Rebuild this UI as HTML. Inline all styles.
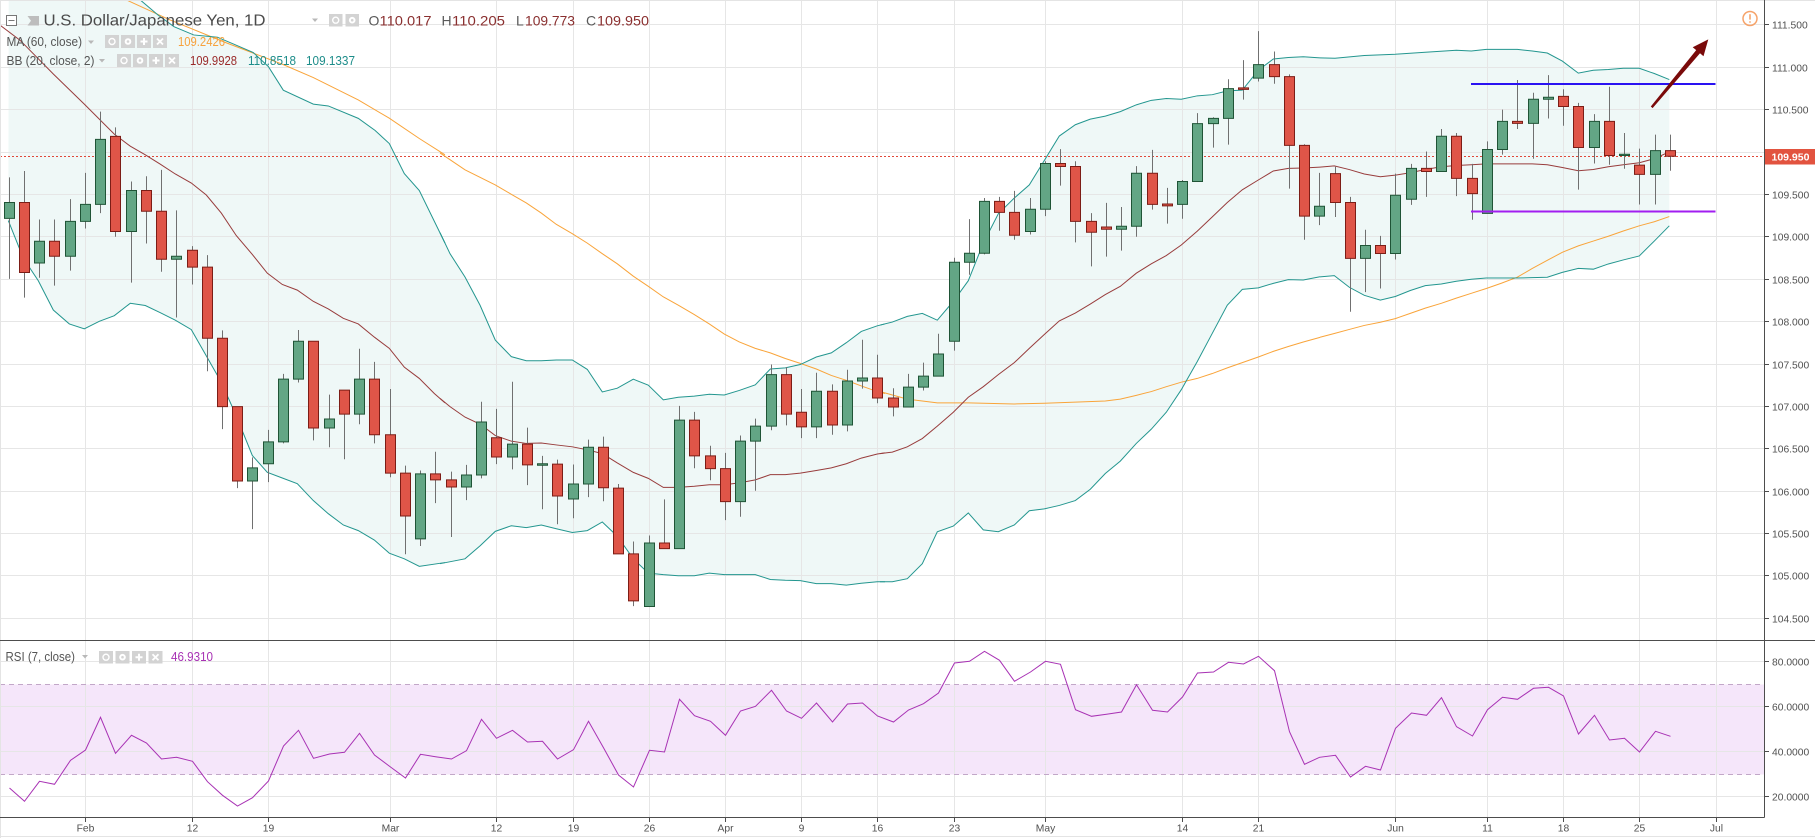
<!DOCTYPE html>
<html><head><meta charset="utf-8">
<style>
html,body{margin:0;padding:0;background:#fff;}
svg{display:block;font-family:"Liberation Sans",Arial,sans-serif;}
.nss *{vector-effect:non-scaling-stroke;}
.w{stroke:#707070;stroke-width:1;fill:none}
.u{fill:#63a685;stroke:#1f5436;stroke-width:1}
.d{fill:#df5548;stroke:#7c1d16;stroke-width:1}
.bf{fill:#eff8f7;stroke:none}
.ub{fill:none;stroke:#23968f;stroke-width:1}
.mb{fill:none;stroke:#983c3c;stroke-width:1}
.ma{fill:none;stroke:#f9a43a;stroke-width:1}
.g{stroke:#e6e6e6;stroke-width:1;fill:none}
.ax{font-size:10.3px;fill:#505050}
.tl{font-size:10.3px;fill:#505050;text-anchor:middle}
.bx{fill:#d3d3d3}
.gl{stroke:#fff;fill:none}
</style></head><body>
<svg width="1815" height="838" viewBox="0 0 1815 838">
<defs>
<clipPath id="cm"><rect x="0" y="0" width="1764" height="640"/></clipPath>
<clipPath id="cr"><rect x="0" y="641" width="1764" height="176"/></clipPath>
</defs>
<rect x="0" y="0" width="1815" height="838" fill="#fff"/>

<!-- MAIN PANE -->
<g clip-path="url(#cm)">
 <!-- BB fills -->
 <g transform="translate(0,40.2) scale(1,0.3758)">
  <polygon class="bf" points="9,-450 100,-200 140.3,-107 158,-67 174,-36 193.7,-14 217.4,-8 233.3,10 253.3,33 268.3,70 283.3,133 313.3,170 328.3,175 358.3,208 375,240 389.3,275 404.3,355 419.3,400 445,540 445,1390 419.3,1400 404.3,1380 389.3,1365 374.3,1330 358.3,1305 343.3,1290 328.3,1260 313.3,1225 297.3,1180 282.3,1165 267.3,1150 252.3,1105 236.3,1000 221.3,910 206.3,840 191.3,770 175.3,745 160.3,725 145.3,706 130.3,700 114.3,733 99.3,748 84.3,768 69.3,755 53.3,718 38.3,640 23.3,580 8.3,480"/>
  <polygon class="bf" points="440,512 450,568 465,630 480,705 495.3,798 511.3,842 526.3,853 541.3,853 556.3,851 572.3,851 587.3,876 602.3,936 617.3,926 633.3,902 648.3,918 663.3,957 678.3,950 694.3,947 709.3,942 724.3,944 739.3,932 755.3,917 770.3,875 785.3,872 800.3,863 816.3,843 831.3,832 846.3,805 861.3,775 877.3,760 885,755 885,1441 877.3,1441 861.3,1445 846.3,1450 831.3,1446 816.3,1446 800.3,1438 785.3,1437 770.3,1435 755.3,1422 739.3,1422 724.3,1422 709.3,1418 694.3,1425 678.3,1425 663.3,1422 648.3,1418 633.3,1380 617.3,1320 602.3,1282 587.3,1305 572.3,1310 556.3,1300 541.3,1290 526.3,1297 511.3,1292 495.3,1307 480.3,1345 465,1380 440,1393"/>
  <polygon class="bf" points="880,758 892.3,750 907.3,735 922.3,727 937.3,745 953.3,695 968.3,640 983.3,540 998.3,462 1014.3,420 1029.3,385 1044.3,320 1059.3,255 1075.3,225 1090.3,210 1105.3,202 1120.3,190 1136.3,172 1151.3,160 1166.3,155 1181.3,157 1197.3,148 1212.3,145 1227.3,135 1242.3,133 1258.3,80 1273.3,50 1288.3,46 1303.3,44 1321,47.2 1321,629.3 1303.3,638 1288.3,637 1273.3,647 1258.3,659 1242.3,663 1227.3,705 1212.3,780 1197.3,855 1181.3,930 1166.3,990 1151.3,1035 1136.3,1073 1120.3,1120 1105.3,1153 1090.3,1195 1075.3,1225 1059.3,1238 1044.3,1247 1029.3,1252 1014.3,1290 998.3,1308 983.3,1303 968.3,1258 953.3,1293 937.3,1308 922.3,1393 907.3,1433 892.3,1441 880,1441"/>
 </g>
 <g transform="scale(1,0.40177)">
  <polygon class="bf" points="1320,144 1335,145 1364.3,138 1395.3,135 1425.3,130 1456.3,125 1471.3,127 1486.3,123 1501.3,123 1517.3,123 1532.3,127 1547.3,132 1562.3,152 1578.3,182 1593.3,175 1608.3,173 1623.3,170 1639.3,170 1654.3,183 1669.3,198 1669.3,562 1654.3,600 1639.3,637 1623.3,647 1608.3,657 1593.3,670 1578.3,668 1562.3,678 1547.3,690 1532.3,691 1517.3,692 1501.3,692 1486.3,692 1471.3,695 1456.3,700 1441.3,707 1425.3,711 1410.3,723 1395.3,738 1380.3,747 1364.3,735 1349.3,715 1334.3,686 1320,689"/>
 </g>
 <!-- grid -->
 <path class="g" d="M0 24.5H1764M0 67.5H1764M0 109.5H1764M0 152.5H1764M0 194.5H1764M0 236.5H1764M0 279.5H1764M0 321.5H1764M0 364.5H1764M0 406.5H1764M0 448.5H1764M0 491.5H1764M0 533.5H1764M0 575.5H1764M0 618.5H1764"/>
 <path class="g" d="M85.5 0V640M192.5 0V640M268.5 0V640M390.5 0V640M496.5 0V640M573.5 0V640M649.5 0V640M725.5 0V640M801.5 0V640M877.5 0V640M954.5 0V640M1045.5 0V640M1182.5 0V640M1258.5 0V640M1395.5 0V640M1487.5 0V640M1563.5 0V640M1639.5 0V640M1716.5 0V640"/>

 <!-- price line -->
 <path d="M0 156.5H1764" stroke="#e0483a" stroke-width="1" stroke-dasharray="2 2"/>

 <!-- indicator lines -->
 <g class="nss" transform="translate(0,40.2) scale(1,0.3758)">
  <polyline class="ma" points="0,-253 126.5,-107 170,-54 226.7,7.5 253,34 283.3,65 313.3,99.5 358.3,159 389.3,207.6 419.3,261.6 445,305"/>
  <polyline class="ub" points="9,-450 100,-200 140.3,-107 158,-67 174,-36 193.7,-14 217.4,-8 233.3,10 253.3,33 268.3,70 283.3,133 313.3,170 328.3,175 358.3,208 375,240 389.3,275 404.3,355 419.3,400 445,540"/>
  <polyline class="mb" points="0,-40 20,0 53.3,90 84.3,170 114.3,250 130.3,282 145.3,305 160.3,330 175.3,356 191.3,380 206.3,412 221.3,460 236.3,520 252.3,570 267.3,620 282.3,650 297.3,665 313.3,695 328.3,715 343.3,740 358.3,755 374.3,790 389.3,820 404.3,870 419.3,900 434.3,940 445,965"/>
  <polyline class="ub" points="8.3,480 23.3,580 38.3,640 53.3,718 69.3,755 84.3,768 99.3,748 114.3,733 130.3,700 145.3,706 160.3,725 175.3,745 191.3,770 206.3,840 221.3,910 236.3,1000 252.3,1105 267.3,1150 282.3,1165 297.3,1180 313.3,1225 328.3,1260 343.3,1290 358.3,1305 374.3,1330 389.3,1365 404.3,1380 419.3,1400 445,1390"/>

  <polyline class="ma" points="440,300 465,345 495.3,385 511.3,410 526.3,433 541.3,460 556.3,490 572.3,515 587.3,540 602.3,568 617.3,595 633.3,628 648.3,655 663.3,683 678.3,705 694.3,730 709.3,755 724.3,782 739.3,803 755.3,820 770.3,832 785.3,847 800.3,860 816.3,875 831.3,892 846.3,905 861.3,920 877.3,935 885,940"/>
  <polyline class="ub" points="440,512 450,568 465,630 480,705 495.3,798 511.3,842 526.3,853 541.3,853 556.3,851 572.3,851 587.3,876 602.3,936 617.3,926 633.3,902 648.3,918 663.3,957 678.3,950 694.3,947 709.3,942 724.3,944 739.3,932 755.3,917 770.3,875 785.3,872 800.3,863 816.3,843 831.3,832 846.3,805 861.3,775 877.3,760 885,755"/>
  <polyline class="mb" points="440,953 450,975 465,1003 480.3,1022 495.3,1052 511.3,1067 526.3,1073 541.3,1072 556.3,1077 572.3,1082 587.3,1090 602.3,1100 617.3,1125 633.3,1150 648.3,1166 663.3,1190 678.3,1190 694.3,1187 709.3,1183 724.3,1183 739.3,1178 755.3,1170 770.3,1156 785.3,1156 800.3,1152 816.3,1145 831.3,1138 846.3,1127 861.3,1112 877.3,1101 885,1098"/>
  <polyline class="ub" points="440,1393 465,1380 480.3,1345 495.3,1307 511.3,1292 526.3,1297 541.3,1290 556.3,1300 572.3,1310 587.3,1305 602.3,1282 617.3,1320 633.3,1380 648.3,1418 663.3,1422 678.3,1425 694.3,1425 709.3,1418 724.3,1422 739.3,1422 755.3,1422 770.3,1435 785.3,1437 800.3,1438 816.3,1446 831.3,1446 846.3,1450 861.3,1445 877.3,1441 885,1441"/>

  <polyline class="ma" points="880,935 907.3,955 937.3,965 968.3,965 1014.3,968 1044.3,966 1075.3,963 1105.3,960 1120.3,955 1136.3,945 1151.3,935 1166.3,922 1181.3,910 1197.3,900 1212.3,887 1227.3,872 1242.3,858 1258.3,843 1273.3,828 1288.3,815 1303.3,803 1320,790.7"/>
  <polyline class="ub" points="880,758 892.3,750 907.3,735 922.3,727 937.3,745 953.3,695 968.3,640 983.3,540 998.3,462 1014.3,420 1029.3,385 1044.3,320 1059.3,255 1075.3,225 1090.3,210 1105.3,202 1120.3,190 1136.3,172 1151.3,160 1166.3,155 1181.3,157 1197.3,148 1212.3,145 1227.3,135 1242.3,133 1258.3,80 1273.3,50 1288.3,46 1303.3,44 1320,47.1"/>
  <polyline class="mb" points="880,1100 892.3,1096 907.3,1082 922.3,1060 937.3,1027 953.3,990 968.3,950 983.3,922 998.3,890 1014.3,858 1029.3,820 1044.3,783 1059.3,747 1075.3,726 1090.3,702 1105.3,677 1120.3,655 1136.3,620 1151.3,595 1166.3,573 1181.3,545 1197.3,508 1212.3,470 1227.3,432 1242.3,398 1258.3,372 1273.3,348 1288.3,341 1303.3,340 1320,337.7"/>
  <polyline class="ub" points="880,1441 892.3,1441 907.3,1433 922.3,1393 937.3,1308 953.3,1293 968.3,1258 983.3,1303 998.3,1308 1014.3,1290 1029.3,1252 1044.3,1247 1059.3,1238 1075.3,1225 1090.3,1195 1105.3,1153 1120.3,1120 1136.3,1073 1151.3,1035 1166.3,990 1181.3,930 1197.3,855 1212.3,780 1227.3,705 1242.3,663 1258.3,659 1273.3,647 1288.3,637 1303.3,638 1320,629.5"/>
 </g>
 <g class="nss" transform="scale(1,0.40177)">
  <polyline class="ma" points="1320,839.5 1334.3,830 1349.3,820 1364.3,810 1380.3,802 1395.3,793 1410.3,780 1425.3,767 1441.3,755 1456.3,742 1471.3,730 1486.3,718 1501.3,705 1517.3,690 1532.3,668 1547.3,648 1562.3,628 1578.3,612 1593.3,600 1608.3,588 1623.3,575 1639.3,562 1654.3,552 1669.3,539"/>
  <polyline class="ub" points="1320,144 1335,145 1364.3,138 1395.3,135 1425.3,130 1456.3,125 1471.3,127 1486.3,123 1501.3,123 1517.3,123 1532.3,127 1547.3,132 1562.3,152 1578.3,182 1593.3,175 1608.3,173 1623.3,170 1639.3,170 1654.3,183 1669.3,198"/>
  <polyline class="mb" points="1320,416 1334.3,413 1349.3,422 1364.3,433 1380.3,440 1395.3,436 1410.3,430 1425.3,422 1441.3,415 1456.3,412 1471.3,410 1486.3,408 1501.3,408 1517.3,408 1532.3,408 1547.3,410 1562.3,417 1578.3,425 1593.3,422 1608.3,415 1623.3,410 1639.3,405 1654.3,395 1669.3,378"/>
  <polyline class="ub" points="1320,689 1334.3,686 1349.3,715 1364.3,735 1380.3,747 1395.3,738 1410.3,723 1425.3,711 1441.3,707 1456.3,700 1471.3,695 1486.3,692 1501.3,692 1517.3,692 1532.3,691 1547.3,690 1562.3,678 1578.3,668 1593.3,670 1608.3,657 1623.3,647 1639.3,637 1654.3,600 1669.3,562"/>
 </g>

 <!-- candles -->
 <g class="nss" transform="translate(0,40.2) scale(1,0.3758)">
  <path class="w" d="M9.5 365V635M24.5 348V685M39.5 477V632M54.5 477V653M70.5 423V613M85.5 353V501M100.5 190V460M115.5 232V523M131.5 376V645M146.5 362V541M161.5 345V616M176.5 453V738M192.5 548V650M207.5 572V881M222.5 772V1035M237.5 975V1192M252.5 1110V1301M268.5 1037V1176M283.5 888V1073M298.5 771V911M313.5 801V1065M329.5 943V1083M344.5 931V1115M359.5 821V1022M374.5 856V1073M390.5 928V1163M405.5 1132V1368M420.5 1145V1346M435.5 1095V1232"/>
  <rect class="u" x="4.5" y="432" width="10" height="42"/>
  <rect class="d" x="19.5" y="432" width="10" height="186"/>
  <rect class="u" x="34.5" y="535" width="10" height="58"/>
  <rect class="d" x="49.5" y="535" width="10" height="40"/>
  <rect class="u" x="65.5" y="482" width="10" height="93"/>
  <rect class="u" x="80.5" y="437" width="10" height="45"/>
  <rect class="u" x="95.5" y="264" width="10" height="173"/>
  <rect class="d" x="110.5" y="256" width="10" height="253"/>
  <rect class="u" x="126.5" y="400" width="10" height="109"/>
  <rect class="d" x="141.5" y="400" width="10" height="55"/>
  <rect class="d" x="156.5" y="455" width="10" height="128"/>
  <rect class="u" x="171.5" y="575" width="10" height="8"/>
  <rect class="d" x="187.5" y="559" width="10" height="45"/>
  <rect class="d" x="202.5" y="604" width="10" height="189"/>
  <rect class="d" x="217.5" y="793" width="10" height="182"/>
  <rect class="d" x="232.5" y="975" width="10" height="198"/>
  <rect class="u" x="247.5" y="1138" width="10" height="35"/>
  <rect class="u" x="263.5" y="1069" width="10" height="58"/>
  <rect class="u" x="278.5" y="902" width="10" height="167"/>
  <rect class="u" x="293.5" y="801" width="10" height="101"/>
  <rect class="d" x="308.5" y="801" width="10" height="231"/>
  <rect class="u" x="324.5" y="1008" width="10" height="24"/>
  <rect class="d" x="339.5" y="931" width="10" height="64"/>
  <rect class="u" x="354.5" y="902" width="10" height="93"/>
  <rect class="d" x="369.5" y="902" width="10" height="148"/>
  <rect class="d" x="385.5" y="1050" width="10" height="102"/>
  <rect class="d" x="400.5" y="1152" width="10" height="114"/>
  <rect class="u" x="415.5" y="1154" width="10" height="173"/>
  <rect class="d" x="430.5" y="1154" width="10" height="16"/>

  <path class="w" d="M451.5 1148V1322M466.5 1130V1224M481.5 962V1166M496.5 981V1128M512.5 909V1142M527.5 1031V1184M542.5 1106V1248M557.5 1116V1288M573.5 1129V1272M588.5 1063V1216M603.5 1055V1227M618.5 1181V1367M633.5 1334V1506M649.5 1318V1507M664.5 1222V1353M679.5 973V1353M694.5 989V1139M710.5 1079V1171M725.5 1098V1277M740.5 1052V1268M755.5 1007V1199M771.5 863V1038M786.5 870V1025M801.5 928V1059M816.5 885V1059M832.5 916V1050M847.5 877V1041M862.5 797V927M877.5 837V966"/>
  <rect class="d" x="446.5" y="1170" width="10" height="19"/>
  <rect class="u" x="461.5" y="1157" width="10" height="32"/>
  <rect class="u" x="476.5" y="1016" width="10" height="141"/>
  <rect class="d" x="491.5" y="1058" width="10" height="51"/>
  <rect class="u" x="507.5" y="1075" width="10" height="34"/>
  <rect class="d" x="522.5" y="1075" width="10" height="55"/>
  <rect class="u" x="537.5" y="1127" width="10" height="4"/>
  <rect class="d" x="552.5" y="1128" width="10" height="85"/>
  <rect class="u" x="568.5" y="1181" width="10" height="40"/>
  <rect class="u" x="583.5" y="1083" width="10" height="98"/>
  <rect class="d" x="598.5" y="1083" width="10" height="108"/>
  <rect class="d" x="613.5" y="1192" width="10" height="175"/>
  <rect class="d" x="628.5" y="1367" width="10" height="125"/>
  <rect class="u" x="644.5" y="1338" width="10" height="169"/>
  <rect class="d" x="659.5" y="1338" width="10" height="15"/>
  <rect class="u" x="674.5" y="1011" width="10" height="342"/>
  <rect class="d" x="689.5" y="1011" width="10" height="95"/>
  <rect class="d" x="705.5" y="1106" width="10" height="34"/>
  <rect class="d" x="720.5" y="1140" width="10" height="88"/>
  <rect class="u" x="735.5" y="1067" width="10" height="161"/>
  <rect class="u" x="750.5" y="1027" width="10" height="40"/>
  <rect class="u" x="766.5" y="890" width="10" height="137"/>
  <rect class="d" x="781.5" y="890" width="10" height="105"/>
  <rect class="d" x="796.5" y="990" width="10" height="39"/>
  <rect class="u" x="811.5" y="934" width="10" height="95"/>
  <rect class="d" x="827.5" y="934" width="10" height="90"/>
  <rect class="u" x="842.5" y="907" width="10" height="117"/>
  <rect class="u" x="857.5" y="899" width="10" height="8"/>
  <rect class="d" x="872.5" y="899" width="10" height="53"/>

  <path class="w" d="M893.5 926V1001M908.5 888V976M923.5 858V932M938.5 781V894M954.5 579V826M969.5 476V624M984.5 420V570M999.5 417V507M1014.5 401V531M1030.5 420V517M1045.5 322V468M1060.5 290V387M1075.5 322V538M1091.5 460V602M1106.5 433V576M1121.5 444V560M1136.5 335V523M1152.5 292V451M1167.5 393V488M1182.5 372V475M1197.5 194V376M1213.5 205V286M1228.5 104V278M1243.5 53V158M1258.5 -24V110M1274.5 30V116M1289.5 91V395M1304.5 277V531M1319.5 353V492"/>
  <rect class="d" x="888.5" y="952" width="10" height="24"/>
  <rect class="u" x="903.5" y="923" width="10" height="53"/>
  <rect class="u" x="918.5" y="894" width="10" height="29"/>
  <rect class="u" x="933.5" y="835" width="10" height="59"/>
  <rect class="u" x="949.5" y="591" width="10" height="210"/>
  <rect class="u" x="964.5" y="567" width="10" height="24"/>
  <rect class="u" x="979.5" y="429" width="10" height="138"/>
  <rect class="d" x="994.5" y="429" width="10" height="29"/>
  <rect class="d" x="1009.5" y="458" width="10" height="61"/>
  <rect class="u" x="1025.5" y="450" width="10" height="59"/>
  <rect class="u" x="1040.5" y="328" width="10" height="122"/>
  <rect class="d" x="1055.5" y="328" width="10" height="8"/>
  <rect class="d" x="1070.5" y="336" width="10" height="146"/>
  <rect class="d" x="1086.5" y="482" width="10" height="29"/>
  <rect class="d" x="1101.5" y="497" width="10" height="6"/>
  <rect class="u" x="1116.5" y="495" width="10" height="8"/>
  <rect class="u" x="1131.5" y="354" width="10" height="141"/>
  <rect class="d" x="1147.5" y="354" width="10" height="83"/>
  <rect class="d" x="1162.5" y="436" width="10" height="5"/>
  <rect class="u" x="1177.5" y="376" width="10" height="61"/>
  <rect class="u" x="1192.5" y="222" width="10" height="154"/>
  <rect class="u" x="1208.5" y="208" width="10" height="14"/>
  <rect class="u" x="1223.5" y="129" width="10" height="79"/>
  <rect class="d" x="1238.5" y="127" width="10" height="4"/>
  <rect class="u" x="1253.5" y="65" width="10" height="36"/>
  <rect class="d" x="1269.5" y="65" width="10" height="32"/>
  <rect class="d" x="1284.5" y="97" width="10" height="183"/>
  <rect class="d" x="1299.5" y="280" width="10" height="188"/>
  <rect class="u" x="1314.5" y="442" width="10" height="26"/>
 </g>
 <g class="nss" transform="scale(1,0.40177)">
  <path class="w" d="M1335.5 415V540M1350.5 490V776M1365.5 572V727M1380.5 587V718M1395.5 432V646M1411.5 408V510M1426.5 377V490M1441.5 321V427M1456.5 331V488M1472.5 408V547M1487.5 352V531M1502.5 273V385M1517.5 199V321M1533.5 231V395M1548.5 187V295M1563.5 222V313M1578.5 256V472M1594.5 284V407M1609.5 216V410M1624.5 331V420M1639.5 370V509M1655.5 335V509M1670.5 335V425"/>
  <rect class="d" x="1330.5" y="432" width="10" height="72"/>
  <rect class="d" x="1345.5" y="504" width="10" height="139"/>
  <rect class="u" x="1360.5" y="611" width="10" height="32"/>
  <rect class="d" x="1375.5" y="611" width="10" height="20"/>
  <rect class="u" x="1390.5" y="486" width="10" height="145"/>
  <rect class="u" x="1406.5" y="419" width="10" height="77"/>
  <rect class="d" x="1421.5" y="419" width="10" height="8"/>
  <rect class="u" x="1436.5" y="339" width="10" height="88"/>
  <rect class="d" x="1451.5" y="339" width="10" height="105"/>
  <rect class="d" x="1467.5" y="444" width="10" height="38"/>
  <rect class="u" x="1482.5" y="372" width="10" height="159"/>
  <rect class="u" x="1497.5" y="302" width="10" height="70"/>
  <rect class="d" x="1512.5" y="302" width="10" height="5"/>
  <rect class="u" x="1528.5" y="247" width="10" height="60"/>
  <rect class="u" x="1543.5" y="242" width="10" height="5"/>
  <rect class="d" x="1558.5" y="240" width="10" height="25"/>
  <rect class="d" x="1573.5" y="265" width="10" height="102"/>
  <rect class="u" x="1589.5" y="302" width="10" height="65"/>
  <rect class="d" x="1604.5" y="302" width="10" height="85"/>
  <rect class="u" x="1619.5" y="384" width="10" height="3"/>
  <rect class="d" x="1634.5" y="411" width="10" height="23"/>
  <rect class="u" x="1650.5" y="375" width="10" height="59"/>
  <rect class="d" x="1665.5" y="375" width="10" height="14"/>
 </g>

 <!-- drawings -->
 <path d="M1471 84H1715.5" stroke="#2a12f2" stroke-width="2"/>
 <path d="M1471 211.5H1715.5" stroke="#a21ef0" stroke-width="2"/>
 <polygon points="1650.8,106.5 1696.2,50.1 1692.7,47.2 1708.3,39.4 1703.5,56.2 1700,53.3 1652.6,108.1" fill="#7a0a0a"/>
 <circle cx="1750" cy="18.5" r="7" fill="none" stroke="#f6a36a" stroke-width="1.5"/>
 <path d="M1750 14.2V19.6" stroke="#f6a36a" stroke-width="1.6"/>
 <circle cx="1750" cy="22" r="0.9" fill="#f6a36a"/>
</g>

<!-- RSI PANE -->
<g clip-path="url(#cr)">
 <rect x="0" y="684.5" width="1764" height="90" fill="#f5e6fa"/>
 <path class="g" d="M0 661.5H1764M0 706.5H1764M0 751.5H1764M0 796.5H1764"/>
 <path class="g" d="M85.5 641V817M192.5 641V817M268.5 641V817M390.5 641V817M496.5 641V817M573.5 641V817M649.5 641V817M725.5 641V817M801.5 641V817M877.5 641V817M954.5 641V817M1045.5 641V817M1182.5 641V817M1258.5 641V817M1395.5 641V817M1487.5 641V817M1563.5 641V817M1639.5 641V817M1716.5 641V817"/>
 <path d="M0 684.5H1764M0 774.5H1764" stroke="#c2a7c8" stroke-width="1" stroke-dasharray="5 4"/>
 <polyline fill="none" stroke="#a832b4" stroke-width="1" points="9.5,788 24.5,801.3 39.5,781.3 54.5,784.3 70.5,760.3 85.5,750 100.5,717.3 115.5,753.3 131.5,735.3 146.5,743 161.5,759 176.5,757.3 192.5,761.3 207.5,781.7 222.5,795.3 237.5,806 252.5,797.7 268.5,781 283.5,746 298.5,730.3 313.5,758.3 329.5,754 344.5,752.3 359.5,733.3 374.5,755 390.5,767 405.5,778 420.5,754.3 435.5,756.7 451.5,759 466.5,750.7 481.5,719.3 496.5,738.3 512.5,730.3 527.5,742 542.5,741.3 557.5,759 573.5,749.7 588.5,721.3 603.5,747.7 618.5,775 633.5,787 649.5,750.3 664.5,752 679.5,699.3 694.5,715.7 710.5,721.3 725.5,735.3 740.5,711 755.5,706.3 771.5,690.3 786.5,711 801.5,718.3 816.5,703 832.5,722 847.5,704 862.5,703 877.5,716 893.5,722 908.5,710 923.5,703.7 938.5,693 954.5,663 969.5,661.3 984.5,651.3 999.5,660.3 1014.5,681.3 1030.5,672 1045.5,661.3 1060.5,664.3 1075.5,709.7 1091.5,716.3 1106.5,714.3 1121.5,712 1136.5,684.7 1152.5,710.3 1167.5,712 1182.5,697 1197.5,673 1213.5,672 1228.5,662.3 1243.5,664 1258.5,656.3 1274.5,670.7 1289.5,731.7 1304.5,764.3 1319.5,757.3 1335.5,755.3 1350.5,777 1365.5,766.3 1380.5,770 1395.5,728.3 1411.5,713 1426.5,715.3 1441.5,697.7 1456.5,726.7 1472.5,736 1487.5,709.7 1502.5,697.3 1517.5,699.3 1533.5,688.3 1548.5,687.3 1563.5,696 1578.5,734 1594.5,715.3 1609.5,740 1624.5,738.3 1639.5,752 1655.5,731.3 1670.5,736.3"/>
</g>

<!-- borders / axes -->
<path d="M0 0.5H1815M0.5 0V838M0 836.5H1815" stroke="#e4e4e4" stroke-width="1"/>
<path d="M0 640.5H1815" stroke="#4d4d4d" stroke-width="1"/>
<path d="M0 817.5H1764.5M1764.5 0V817.5" stroke="#4d4d4d" stroke-width="1"/>

<!-- price axis ticks & labels -->
<path d="M1765 24.5h4M1765 67.5h4M1765 109.5h4M1765 194.5h4M1765 236.5h4M1765 279.5h4M1765 321.5h4M1765 364.5h4M1765 406.5h4M1765 448.5h4M1765 491.5h4M1765 533.5h4M1765 575.5h4M1765 618.5h4M1765 661.5h4M1765 706.5h4M1765 751.5h4M1765 796.5h4" stroke="#4d4d4d" stroke-width="1"/>
<g class="ax">
 <text x="1772" y="28.3">111.500</text>
 <text x="1772" y="71.3">111.000</text>
 <text x="1772" y="113.3">110.500</text>
 <text x="1772" y="198.3">109.500</text>
 <text x="1772" y="240.3">109.000</text>
 <text x="1772" y="283.3">108.500</text>
 <text x="1772" y="325.3">108.000</text>
 <text x="1772" y="368.3">107.500</text>
 <text x="1772" y="410.3">107.000</text>
 <text x="1772" y="452.3">106.500</text>
 <text x="1772" y="495.3">106.000</text>
 <text x="1772" y="537.3">105.500</text>
 <text x="1772" y="579.3">105.000</text>
 <text x="1772" y="622.3">104.500</text>
 <text x="1772" y="665.3">80.0000</text>
 <text x="1772" y="710.3">60.0000</text>
 <text x="1772" y="755.3">40.0000</text>
 <text x="1772" y="800.3">20.0000</text>
</g>
<rect x="1765" y="149" width="50" height="15.5" fill="#e2533f"/>
<text x="1771.5" y="160.6" font-size="10.5" font-weight="bold" fill="#fff">109.950</text>

<!-- time axis -->
<path d="M85.5 818v4M192.5 818v4M268.5 818v4M390.5 818v4M496.5 818v4M573.5 818v4M649.5 818v4M725.5 818v4M801.5 818v4M877.5 818v4M954.5 818v4M1045.5 818v4M1182.5 818v4M1258.5 818v4M1395.5 818v4M1487.5 818v4M1563.5 818v4M1639.5 818v4M1716.5 818v4" stroke="#4d4d4d" stroke-width="1"/>
<g class="tl">
 <text x="85.5" y="831.5">Feb</text>
 <text x="192.5" y="831.5">12</text>
 <text x="268.5" y="831.5">19</text>
 <text x="390.5" y="831.5">Mar</text>
 <text x="496.5" y="831.5">12</text>
 <text x="573.5" y="831.5">19</text>
 <text x="649.5" y="831.5">26</text>
 <text x="725.5" y="831.5">Apr</text>
 <text x="801.5" y="831.5">9</text>
 <text x="877.5" y="831.5">16</text>
 <text x="954.5" y="831.5">23</text>
 <text x="1045.5" y="831.5">May</text>
 <text x="1182.5" y="831.5">14</text>
 <text x="1258.5" y="831.5">21</text>
 <text x="1395.5" y="831.5">Jun</text>
 <text x="1487.5" y="831.5">11</text>
 <text x="1563.5" y="831.5">18</text>
 <text x="1639.5" y="831.5">25</text>
 <text x="1716.5" y="831.5">Jul</text>
</g>

<!-- LEGEND -->
<rect x="6.5" y="15.5" width="10" height="10" fill="#fff" stroke="#777"/>
<path d="M8.5 20.5H14.5" stroke="#777"/>
<polygon points="27.5,16 39,16 39,25.5 27.5,25.5 31,20.7" fill="#bdbdbd"/>
<text x="43.5" y="25.5" font-size="16" fill="#4a4a4a" textLength="222" lengthAdjust="spacingAndGlyphs">U.S. Dollar/Japanese Yen, 1D</text>
<polygon points="312,18.5 318,18.5 315,22" fill="#b8b8b8"/>
<rect class="bx" x="329" y="14" width="13.5" height="12.5"/>
<circle cx="335.7" cy="20.2" r="3" class="gl" stroke-width="1.4"/>
<rect class="bx" x="345.5" y="14" width="13.5" height="12.5"/>
<circle cx="352.2" cy="20.2" r="3.3" fill="#fff"/><circle cx="352.2" cy="20.2" r="1.3" fill="#d3d3d3"/>
<g font-size="14">
 <text x="368.5" y="25.5" fill="#5a5a5a">O</text>
 <text x="379.5" y="25.5" fill="#8a2f2f" textLength="52" lengthAdjust="spacingAndGlyphs">110.017</text>
 <text x="441.5" y="25.5" fill="#5a5a5a">H</text>
 <text x="452" y="25.5" fill="#8a2f2f" textLength="53" lengthAdjust="spacingAndGlyphs">110.205</text>
 <text x="516" y="25.5" fill="#5a5a5a">L</text>
 <text x="525" y="25.5" fill="#8a2f2f" textLength="50" lengthAdjust="spacingAndGlyphs">109.773</text>
 <text x="586" y="25.5" fill="#5a5a5a">C</text>
 <text x="597" y="25.5" fill="#8a2f2f" textLength="52" lengthAdjust="spacingAndGlyphs">109.950</text>
</g>

<text x="6.5" y="46" font-size="12.5" fill="#555" textLength="75.5" lengthAdjust="spacingAndGlyphs">MA (60, close)</text>
<polygon points="88,40.5 94,40.5 91,44" fill="#b8b8b8"/>
<rect class="bx" x="105" y="35" width="14" height="13"/>
<circle cx="112" cy="41.5" r="3" class="gl" stroke-width="1.4"/>
<rect class="bx" x="121" y="35" width="14" height="13"/>
<circle cx="128" cy="41.5" r="3.3" fill="#fff"/><circle cx="128" cy="41.5" r="1.3" fill="#d3d3d3"/>
<rect class="bx" x="137" y="35" width="14" height="13"/>
<path d="M140.5 41.5h7M144 38v7" class="gl" stroke-width="2"/>
<rect class="bx" x="153" y="35" width="14" height="13"/>
<path d="M157 38.5l6 6M163 38.5l-6 6" class="gl" stroke-width="1.8"/>
<text x="178" y="46" font-size="12.5" fill="#f7a23c" textLength="47" lengthAdjust="spacingAndGlyphs">109.2426</text>

<text x="6.5" y="65" font-size="12.5" fill="#555" textLength="88" lengthAdjust="spacingAndGlyphs">BB (20, close, 2)</text>
<polygon points="99,59 105,59 102,62.5" fill="#b8b8b8"/>
<rect class="bx" x="117" y="54" width="14" height="13"/>
<circle cx="124" cy="60.5" r="3" class="gl" stroke-width="1.4"/>
<rect class="bx" x="133" y="54" width="14" height="13"/>
<circle cx="140" cy="60.5" r="3.3" fill="#fff"/><circle cx="140" cy="60.5" r="1.3" fill="#d3d3d3"/>
<rect class="bx" x="149" y="54" width="14" height="13"/>
<path d="M152.5 60.5h7M156 57v7" class="gl" stroke-width="2"/>
<rect class="bx" x="165" y="54" width="14" height="13"/>
<path d="M169 57.5l6 6M175 57.5l-6 6" class="gl" stroke-width="1.8"/>
<text x="190" y="65" font-size="12.5" fill="#9a2a2a" textLength="47" lengthAdjust="spacingAndGlyphs">109.9928</text>
<text x="248" y="65" font-size="12.5" fill="#1d8d8a" textLength="48" lengthAdjust="spacingAndGlyphs">110.8518</text>
<text x="306" y="65" font-size="12.5" fill="#1d8d8a" textLength="49" lengthAdjust="spacingAndGlyphs">109.1337</text>

<text x="5.5" y="661" font-size="12.5" fill="#555" textLength="69.5" lengthAdjust="spacingAndGlyphs">RSI (7, close)</text>
<polygon points="82,655 88,655 85,658.5" fill="#b8b8b8"/>
<rect class="bx" x="99" y="651" width="14" height="12.5"/>
<circle cx="106" cy="657.2" r="3" class="gl" stroke-width="1.4"/>
<rect class="bx" x="115.5" y="651" width="14" height="12.5"/>
<circle cx="122.5" cy="657.2" r="3.3" fill="#fff"/><circle cx="122.5" cy="657.2" r="1.3" fill="#d3d3d3"/>
<rect class="bx" x="132" y="651" width="14" height="12.5"/>
<path d="M135.5 657.2h7M139 653.7v7" class="gl" stroke-width="2"/>
<rect class="bx" x="148.5" y="651" width="14" height="12.5"/>
<path d="M152.5 654.2l6 6M158.5 654.2l-6 6" class="gl" stroke-width="1.8"/>
<text x="171" y="661" font-size="12.5" fill="#a832b4" textLength="42" lengthAdjust="spacingAndGlyphs">46.9310</text>
</svg>
</body></html>
